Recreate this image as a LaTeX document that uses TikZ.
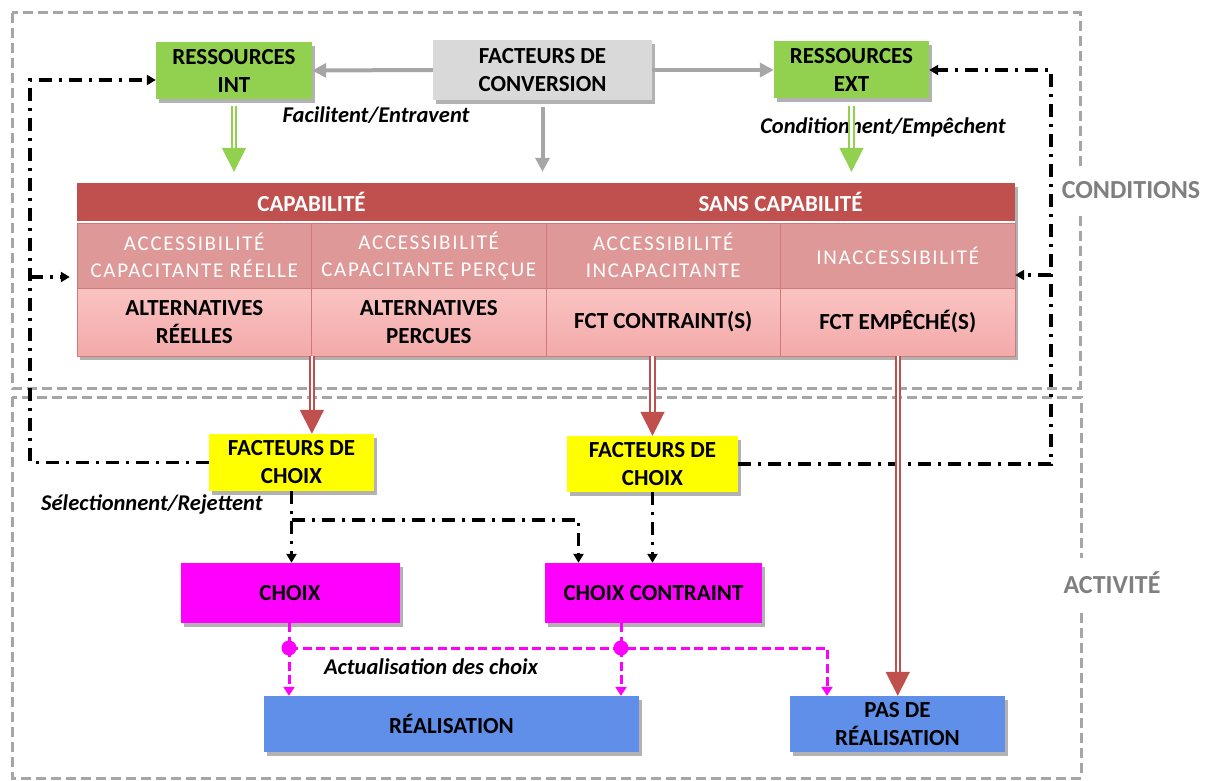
\documentclass[tikz,border=0pt]{standalone}
\usepackage{fontspec}
\setmainfont{Carlito}
\usetikzlibrary{arrows.meta,shadows,calc}
\definecolor{vert}{HTML}{92D050}
\definecolor{grisc}{HTML}{D9D9D9}
\definecolor{grisf}{HTML}{A6A6A6}
\definecolor{grist}{HTML}{7F7F7F}
\definecolor{rouge}{HTML}{C0504D}
\definecolor{roser}{HTML}{DE9897}
\definecolor{rosec}{HTML}{F8B4B3}
\definecolor{trait}{HTML}{CF7A78}
\definecolor{jaune}{HTML}{FFFF00}
\definecolor{fuchsia}{HTML}{FF00FF}
\definecolor{bleu}{HTML}{5F8FE8}
\tikzset{
  boite/.style={inner sep=0pt,align=center,font=\fontsize{23}{28}\selectfont\bfseries,
    drop shadow={shadow xshift=3pt,shadow yshift=-4pt,fill=black,opacity=0.3}},
  entete/.style={fill=rouge,text=white,inner sep=0pt,minimum width=469pt,minimum height=38pt,
    font=\fontsize{23}{28}\selectfont\bfseries},
  acces/.style={fill=roser,draw=trait,line width=0.8pt,text=white,inner sep=0pt,align=center,
    minimum width=234.5pt,minimum height=65pt,font=\fontsize{21}{27}\selectfont\addfontfeature{LetterSpace=8}},
  alt/.style={top color=rosec!80!white,bottom color=rosec!90!rouge,draw=trait,line width=0.8pt,inner sep=0pt,align=center,
    minimum width=234.5pt,minimum height=68pt,font=\fontsize{23}{28}\selectfont\bfseries},
  etiq/.style={fill=white,text=grist,inner xsep=2pt,inner ysep=14pt,font=\fontsize{26}{30}\selectfont\bfseries},
  italique/.style={inner sep=0pt,font=\fontsize{22.5}{27}\selectfont\bfseries\itshape},
  cadre/.style={draw=grisf,line width=3pt,dash pattern=on 10pt off 5pt},
  fgris/.style={draw=grisf,line width=4pt,-{Triangle[length=14pt,width=14pt]}},
  fvert/.style={draw=vert,double=white,double distance=2.5pt,line width=1.8pt,-{Triangle[length=24pt,width=24pt]}},
  frouge/.style={draw=rouge,double=white,double distance=2.5pt,line width=1.8pt,-{Triangle[length=24pt,width=24pt]}},
  fpoint/.style={line width=3.4pt,dash pattern=on 13pt off 7pt on 3pt off 7pt,-{Triangle[length=9pt,width=10pt]}},
  fact/.style={draw=fuchsia,line width=3pt,dash pattern=on 9pt off 4.5pt,-{Triangle[length=9pt,width=11pt]}},
}
\begin{document}
\begin{tikzpicture}[x=1pt,y=-1pt]
  \useasboundingbox (0,0) rectangle (1208,781);
  \draw[cadre] (12,13) rectangle (1080,388);
  \draw[cadre] (12,397) rectangle (1081,778);
  \node[etiq] (cond) at (1131,190) {CONDITIONS};
  \node[etiq] (activ) at (1112,583) {ACTIVITÉ};

  \node[boite,fill=vert,minimum width=156pt,minimum height=57pt] (resint) at (234,70.5) {RESSOURCES\\INT};
  \node[boite,fill=grisc,minimum width=219pt,minimum height=60pt] (conv) at (542.5,70) {FACTEURS DE\\CONVERSION};
  \node[boite,fill=vert,minimum width=155pt,minimum height=57pt] (resext) at (851.5,70) {RESSOURCES\\EXT};

  \node[boite,fill=white,minimum width=938pt,minimum height=173pt] (tab) at (546,269.5) {};
  \node[entete] (capa) at (311.5,202) {CAPABILITÉ};
  \node[entete] (sanscapa) at (780.5,202) {SANS CAPABILITÉ};
  \node[acces] (a1) at (194.25,255.5) {ACCESSIBILITÉ\\CAPACITANTE RÉELLE};
  \node[acces] (a2) at (428.75,255.5) {ACCESSIBILITÉ\\CAPACITANTE PERÇUE};
  \node[acces] (a3) at (663.25,255.5) {ACCESSIBILITÉ\\INCAPACITANTE};
  \node[acces] (a4) at (897.75,255.5) {INACCESSIBILITÉ};
  \node[alt] (b1) at (194.25,322) {ALTERNATIVES\\RÉELLES};
  \node[alt] (b2) at (428.75,322) {ALTERNATIVES\\PERCUES};
  \node[alt] (b3) at (663.25,322) {FCT CONTRAINT(S)};
  \node[alt] (b4) at (897.75,322) {FCT EMPÊCHÉ(S)};

  \node[boite,fill=jaune,minimum width=165pt,minimum height=57pt] (fc1) at (291.5,462.5) {FACTEURS DE\\CHOIX};
  \node[boite,fill=jaune,minimum width=171pt,minimum height=56pt] (fc2) at (652.5,464) {FACTEURS DE\\CHOIX};
  \node[boite,fill=fuchsia,minimum width=219pt,minimum height=60pt] (choix) at (290,593) {CHOIX};
  \node[boite,fill=fuchsia,minimum width=217pt,minimum height=60pt] (cc) at (653.5,593) {CHOIX CONTRAINT};
  \node[boite,fill=bleu,minimum width=375pt,minimum height=56pt] (real) at (451.5,724) {RÉALISATION};
  \node[boite,fill=bleu,minimum width=215pt,minimum height=56pt] (pas) at (897.5,724) {PAS DE\\RÉALISATION};

  \node[italique] (facil) at (376,115) {Facilitent/Entravent};
  \node[italique] (condi) at (883,127) {Conditionnent/Empêchent};
  \node[italique] (selec) at (152,504) {Sélectionnent/Rejettent};
  \node[italique] (actu) at (431,667) {Actualisation des choix};

  \draw[fpoint] (fc1.west) -| (30,80) -- (resint.west |- 0,80);
  \draw[fpoint] (30,277) -- ($(tab.west |- 0,277)+(-7,0)$);
  \draw[fpoint] (fc2.east) -| (1051,70) -- (resext.east);
  \draw[fpoint] (1051,275) -- (tab.east |- 0,275);
  \draw[fpoint] (fc1.south) -- (fc1.south |- choix.north);
  \draw[fpoint] (fc1.south |- 0,520) -| ($(cc.north)+(-75,0)$);
  \draw[fpoint] (fc2.south) -- (fc2.south |- cc.north);

  \draw[fgris] (conv.west) -- (resint.east);
  \draw[fgris] (conv.east) -- (resext.west);
  \draw[fgris] ($(conv.south)+(0,7)$) -- ($(conv.south |- tab.north)+(0,-11)$);
  \draw[fvert] ($(resint.south)+(0,7)$) -- ($(resint.south |- tab.north)+(0,-11)$);
  \draw[fvert] ($(resext.south)+(0,7)$) -- ($(resext.south |- tab.north)+(0,-11)$);
  \draw[frouge] (b1.south east) -- (b1.south east |- fc1.north);
  \draw[frouge] (fc2.north |- b3.south) -- (fc2.north);
  \draw[frouge] (b4.south) -- (b4.south |- pas.north);

  \coordinate (p1) at (289,648);
  \coordinate (p2) at (621,648);
  \coordinate (p3) at (827,648);
  \draw[fact,-] (choix.south -| p1) -- (p1);
  \draw[fact] (p1) -- (p1 |- real.north);
  \draw[fact,-] (cc.south -| p2) -- (p2);
  \draw[fact] (p2) -- (p2 |- real.north);
  \draw[fact] (p1) -- (p3) -- (p3 |- pas.north);
  \fill[fuchsia] (p1) circle[radius=7.5pt];
  \fill[fuchsia] (p2) circle[radius=7.5pt];
\end{tikzpicture}
\end{document}
